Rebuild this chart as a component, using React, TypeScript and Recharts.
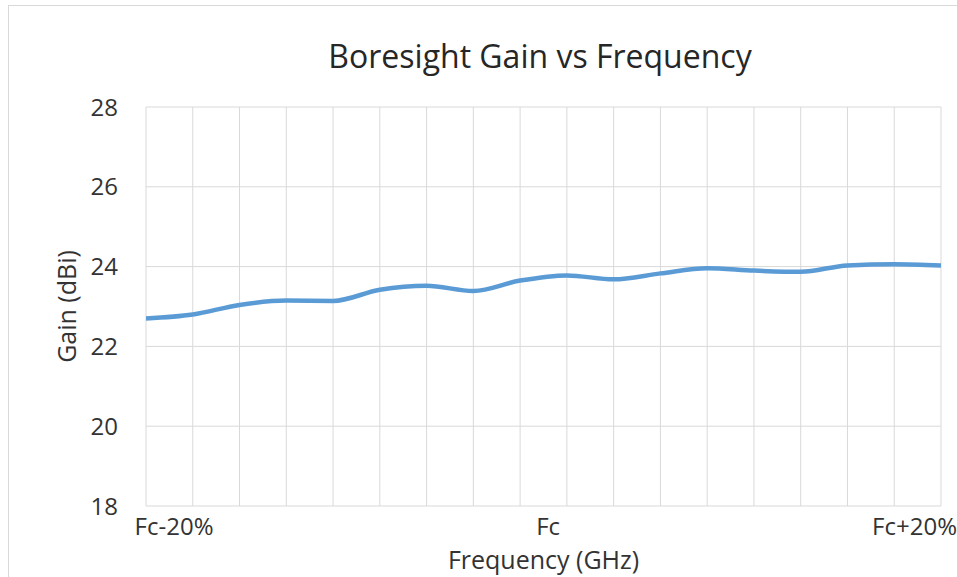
import React from "react";
import { LineChart, Line, XAxis, YAxis, CartesianGrid, Label } from "recharts";

const freqPct = [-21.5, -19, -16.5, -14, -11.5, -9, -6.5, -4, -1.5, 1, 3.5, 6, 8.5, 11, 13.5, 16, 18.5, 21];
const gainDbi = [22.7, 22.8, 23.04, 23.15, 23.14, 23.42, 23.52, 23.39, 23.65, 23.78, 23.68, 23.83, 23.96, 23.9, 23.87, 24.03, 24.06, 24.03];
const freqTickValues = [-20, 0, 20];
const freqTickLabels = ["Fc-20%", "Fc", "Fc+20%"];
const gainTicks = [18, 20, 22, 24, 26, 28];

const data = freqPct.map((f, k) => ({ freq: f, gain: gainDbi[k] }));

const W = 957;
const H = 577;
const FONT = "'Open Sans', sans-serif";
const TEXT = "#333333";

const FreqTick = (props: any) => {
  const { x, y, payload } = props;
  const i = freqTickValues.indexOf(payload.value);
  const label = i >= 0 ? freqTickLabels[i] : String(payload.value);
  const half = 46;
  const overflow = x + half > W;
  return (
    <text
      x={overflow ? W : x}
      y={y}
      dy="0.71em"
      textAnchor={overflow ? "end" : "middle"}
      fontFamily={FONT}
      fontSize={24}
      fill={TEXT}
    >
      {label}
    </text>
  );
};

export default function App() {
  return (
    <div style={{ position: "absolute", left: 0, top: 0, width: W, height: H, background: "#fff" }}>
      <div
        style={{
          position: "absolute",
          left: 8,
          top: 5,
          right: 0,
          bottom: 0,
          borderLeft: "1px solid #d9d9d9",
          borderTop: "1px solid #d9d9d9",
        }}
      />
      <div
        style={{
          position: "absolute",
          left: 0,
          top: 34,
          width: 1080,
          textAlign: "center",
          fontFamily: FONT,
          fontSize: 32,
          color: "#262626",
          lineHeight: "44px",
        }}
      >
        Boresight Gain vs Frequency
      </div>
      <div style={{ position: "absolute", left: 0, top: 0 }}>
        <LineChart width={W} height={H} data={data} margin={{ top: 107, right: 16, bottom: 0, left: 0 }}>
          <CartesianGrid stroke="#d9d9d9" strokeWidth={1} verticalValues={freqPct} />
          <XAxis
            dataKey="freq"
            type="number"
            domain={[-21.5, 21]}
            ticks={freqTickValues}
            height={71}
            axisLine={false}
            tickLine={false}
            tickSize={6}
            tickMargin={6}
            tick={<FreqTick />}
            allowDataOverflow
          >
            <Label
              value="Frequency (GHz)"
              position="insideBottom"
              offset={8}
              style={{ fontFamily: FONT, fontSize: 25, fill: TEXT }}
            />
          </XAxis>
          <YAxis
            type="number"
            domain={[18, 28]}
            ticks={gainTicks}
            width={146}
            axisLine={false}
            tickLine={false}
            tickSize={6}
            tickMargin={22}
            tick={{ fontFamily: FONT, fontSize: 24, fill: TEXT }}
          >
            <Label
              content={(p: any) => {
                const vb = p.viewBox;
                const cx = vb.x + 66;
                const cy = vb.y + vb.height / 2;
                return (
                  <text
                    x={cx}
                    y={cy}
                    transform={`rotate(-90, ${cx}, ${cy})`}
                    textAnchor="middle"
                    dominantBaseline="central"
                    fontFamily={FONT}
                    fontSize={25}
                    fill={TEXT}
                  >
                    Gain (dBi)
                  </text>
                );
              }}
            />
          </YAxis>
          <Line
            type="monotone"
            dataKey="gain"
            stroke="#5b9bd5"
            strokeWidth={4.5}
            dot={false}
            isAnimationActive={false}
          />
        </LineChart>
      </div>
    </div>
  );
}
